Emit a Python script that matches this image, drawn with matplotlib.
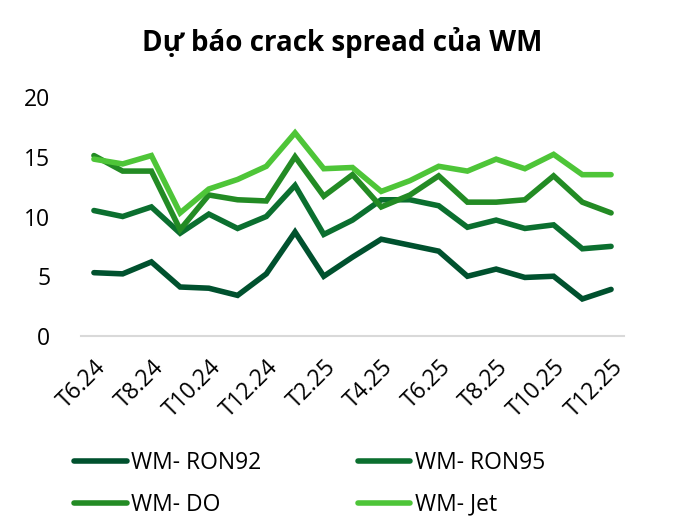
import matplotlib
matplotlib.use("Agg")
import matplotlib.pyplot as plt

months = ["T6.24", "T7.24", "T8.24", "T9.24", "T10.24", "T11.24", "T12.24", "T1.25",
          "T2.25", "T3.25", "T4.25", "T5.25", "T6.25", "T7.25", "T8.25", "T9.25",
          "T10.25", "T11.25", "T12.25"]
ron92 = [5.3, 5.2, 6.2, 4.1, 4.0, 3.4, 5.2, 8.7, 5.0, 6.6, 8.1, 7.6, 7.1, 5.0, 5.6, 4.9, 5.0, 3.1, 3.9]
ron95 = [10.5, 10.0, 10.8, 8.6, 10.2, 9.0, 10.0, 12.6, 8.5, 9.7, 11.4, 11.4, 10.9, 9.1, 9.7, 9.0, 9.3, 7.3, 7.5]
do = [15.1, 13.8, 13.8, 8.9, 11.8, 11.4, 11.3, 15.0, 11.7, 13.5, 10.8, 11.8, 13.4, 11.2, 11.2, 11.4, 13.4, 11.2, 10.3]
jet = [14.8, 14.4, 15.1, 10.3, 12.3, 13.1, 14.2, 17.0, 14.0, 14.1, 12.1, 13.0, 14.2, 13.8, 14.8, 14.0, 15.2, 13.5, 13.5]

series = [("WM- RON92", ron92, "#00512e"),
          ("WM- RON95", ron95, "#0b6f2f"),
          ("WM- DO", do, "#238b24"),
          ("WM- Jet", jet, "#4ec538")]

plt.rcParams['font.family'] = ['Open Sans', 'DejaVu Sans']

fig = plt.figure(figsize=(6.85, 5.2), dpi=100)
ax = fig.add_axes([81/685, 1-336/520, (624-81)/685, (336-97)/520])

x = list(range(len(months)))
for name, vals, col in series:
    ax.plot(x, vals, color=col, lw=4.0, solid_capstyle='round', solid_joinstyle='miter', label=name)

ax.set_xlim(-0.45, len(months) - 1 + 0.45)
ax.set_ylim(0, 20)
ax.set_yticks([0, 5, 10, 15, 20])
ax.set_xticks(x[::2])
ax.set_xticklabels(months[::2], rotation=45, ha='right', va='top', rotation_mode='anchor')
ax.tick_params(axis='both', length=0, labelsize=16.5, colors='black')
ax.tick_params(axis='y', pad=22)
ax.tick_params(axis='x', pad=14)
for s in ['top', 'right', 'left']:
    ax.spines[s].set_visible(False)
ax.spines['bottom'].set_color('#d9d9d9')
ax.spines['bottom'].set_linewidth(1.5)

fig.text(0.5, 1-42/520, "Dự báo crack spread của WM", ha='center', va='center',
         fontsize=20, fontweight='bold')

handles, labels = ax.get_legend_handles_labels()
order = [0, 2, 1, 3]  # row-wise: RON92, RON95 / DO, Jet
fig.legend([handles[i] for i in order], [labels[i] for i in order], ncol=2, loc='upper left',
           bbox_to_anchor=(74/685, 1-451/520),
           frameon=False, fontsize=16.5, handlelength=2.3, handletextpad=0.2,
           columnspacing=4.2, labelspacing=0.77, borderpad=0, borderaxespad=0)

fig.savefig("out.png", dpi=100)
